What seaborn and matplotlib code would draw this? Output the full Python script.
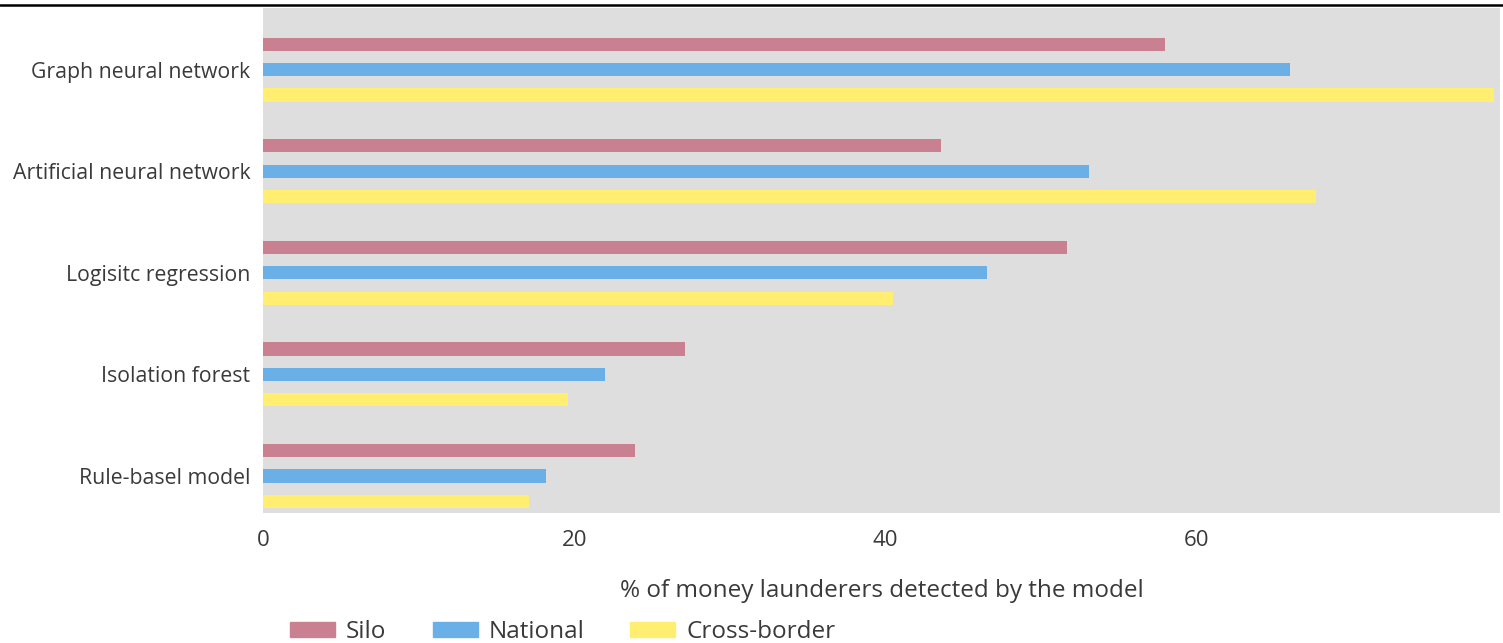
import matplotlib
matplotlib.use("Agg")
import matplotlib.pyplot as plt
from matplotlib.lines import Line2D
import seaborn as sns
import pandas as pd

models = ["Graph neural network", "Artificial neural network", "Logisitc regression",
          "Isolation forest", "Rule-basel model"]
silo = [58.0, 43.6, 51.7, 27.1, 23.9]
national = [66.0, 53.1, 46.5, 22.0, 18.2]
cross_border = [79.1, 67.7, 40.5, 19.6, 17.1]
scopes = ["Silo", "National", "Cross-border"]
colors = ["#C98090", "#6AB0E6", "#FFEE70"]

rows = []
for scope, vals in zip(scopes, [silo, national, cross_border]):
    for m, v in zip(models, vals):
        rows.append({"model": m, "scope": scope, "value": v})
df = pd.DataFrame(rows)

sns.set_theme(style="white")
plt.rcParams["font.family"] = ["Open Sans", "DejaVu Sans"]
text_color = "#3a3a3a"

fig = plt.figure(figsize=(15.03, 6.43), dpi=100)
ax = fig.add_axes([0.175, 0.202, 0.823, 0.786])
ax.set_facecolor("#DEDEDE")

sns.barplot(data=df, y="model", x="value", hue="scope", order=models,
            hue_order=scopes, palette=colors, orient="h", width=0.75, gap=0.48,
            saturation=1, ax=ax, legend=False, errorbar=None, linewidth=0)

ax.set_xlim(0, 79.5)
ax.set_ylim(4.365, -0.61)
ax.set_xticks([0, 20, 40, 60])
ax.set_ylabel("")
ax.set_xlabel("% of money launderers detected by the model", fontsize=17.5,
              color=text_color, labelpad=20)
ax.tick_params(axis="x", length=0, labelsize=16, labelcolor=text_color, pad=12)
ax.tick_params(axis="y", length=0, labelsize=15.3, labelcolor=text_color, pad=9)
for s in ax.spines.values():
    s.set_visible(False)

handles = [plt.Rectangle((0, 0), 1, 1, color=c) for c in colors]
fig.legend(handles, scopes, loc="center left", bbox_to_anchor=(0.193, 0.017),
           ncol=3, frameon=False, fontsize=17.5, handlelength=1.85, handleheight=0.62,
           handletextpad=0.45, columnspacing=1.9, borderpad=0, borderaxespad=0,
           labelcolor=text_color)

fig.add_artist(Line2D([0, 1], [0.992, 0.992], transform=fig.transFigure,
                      color="black", linewidth=1.8))

fig.savefig("out.png", dpi=100)
